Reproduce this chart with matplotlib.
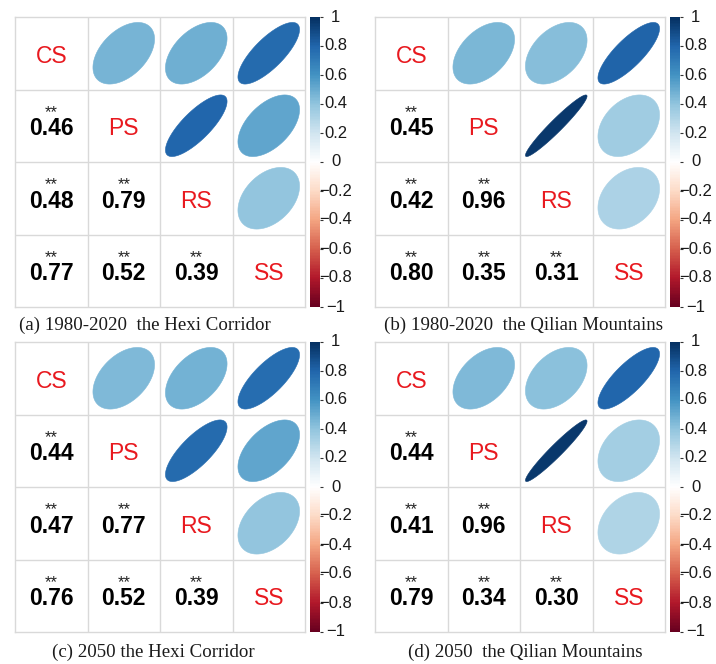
import numpy as np
import matplotlib
matplotlib.use("Agg")
import matplotlib.pyplot as plt
from matplotlib.colors import LinearSegmentedColormap, Normalize
from matplotlib.cm import ScalarMappable
from matplotlib.patches import Polygon
from matplotlib.transforms import blended_transform_factory

# ---------------------------------------------------------------- data
variables = ["CS", "PS", "RS", "SS"]

# lower-triangle correlations, pair order:
# (PS,CS), (RS,CS), (RS,PS), (SS,CS), (SS,PS), (SS,RS)
pairs = [(1, 0), (2, 0), (2, 1), (3, 0), (3, 1), (3, 2)]
hexi_1980_2020 = [0.46, 0.48, 0.79, 0.77, 0.52, 0.39]
qilian_1980_2020 = [0.45, 0.42, 0.96, 0.80, 0.35, 0.31]
hexi_2050 = [0.44, 0.47, 0.77, 0.76, 0.52, 0.39]
qilian_2050 = [0.44, 0.41, 0.96, 0.79, 0.34, 0.30]
significance = ["**", "**", "**", "**", "**", "**"]

captions = [
    "(a) 1980-2020  the Hexi Corridor",
    "(b) 1980-2020  the Qilian Mountains",
    "(c) 2050 the Hexi Corridor",
    "(d) 2050  the Qilian Mountains",
]
cbar_ticks = [1, 0.8, 0.6, 0.4, 0.2, 0, -0.2, -0.4, -0.6, -0.8, -1]

# ---------------------------------------------------------------- style
W, H = 716, 664
GRID = 290          # size of one correlation grid, px
label_red = "#e8191f"
grid_grey = "#d9d9d9"
sans = "Liberation Sans"
serif = "Liberation Serif"

rdbu = LinearSegmentedColormap.from_list(
    "corr_rdbu",
    ["#67001F", "#B2182B", "#D6604D", "#F4A582", "#FDDBC7", "#FFFFFF",
     "#D1E5F0", "#92C5DE", "#4393C3", "#2166AC", "#053061"], N=200)
norm = Normalize(-1, 1)

# (grid left, grid top, caption centre x, caption centre y) in px
layout = [
    (15, 17, 145, 325),
    (375, 17, 523, 325),
    (15, 342, 153, 652),
    (375, 342, 525, 652),
]
panels = [hexi_1980_2020, qilian_1980_2020, hexi_2050, qilian_2050]


def build_matrix(values):
    m = np.eye(len(variables))
    for (i, j), v in zip(pairs, values):
        m[i, j] = v
        m[j, i] = v
    return m


def ellipse_xy(r, cx, cy, scale=0.85, n=99):
    t = np.linspace(0, 2 * np.pi, n)
    a = np.arccos(np.clip(r, -1, 1)) / 2
    x = cx + scale / 2 * np.cos(t + a)
    y = cy - scale / 2 * np.cos(t - a)   # y axis points down
    return np.column_stack([x, y])


def fmt_tick(v):
    return ("%g" % v).replace("-", "\u2212")


fig = plt.figure(figsize=(W / 100, H / 100), dpi=100)
fig.patch.set_facecolor("white")

for values, (gx, gy, capx, capy), caption in zip(panels, layout, captions):
    mat = build_matrix(values)
    n = len(variables)
    ax = fig.add_axes([gx / W, 1 - (gy + GRID) / H, GRID / W, GRID / H])
    ax.set_xlim(0, n)
    ax.set_ylim(n, 0)
    ax.set_xticks([])
    ax.set_yticks([])
    for s in ax.spines.values():
        s.set_color(grid_grey)
        s.set_linewidth(1.0)
    for k in range(1, n):
        ax.axhline(k, color=grid_grey, lw=1.0, zorder=1)
        ax.axvline(k, color=grid_grey, lw=1.0, zorder=1)

    for i in range(n):
        for j in range(n):
            cx, cy = j + 0.5, i + 0.5
            if i == j:
                ax.text(cx, cy + 0.13, variables[i], ha="center", va="baseline",
                        color=label_red, fontsize=16.5, family=sans)
            elif j > i:
                r = mat[i, j]
                ax.add_patch(Polygon(ellipse_xy(r, cx, cy), closed=True,
                                     facecolor=rdbu(norm(r)),
                                     edgecolor=rdbu(norm(r)), lw=0.4,
                                     zorder=2))
            else:
                r = mat[i, j]
                sig = significance[pairs.index((i, j))]
                ax.text(cx, cy + 0.13, f"{r:.2f}", ha="center", va="baseline",
                        color="black", fontsize=16.5, fontweight="bold",
                        family=sans)
                ax.text(cx, cy - 0.125, sig, ha="center", va="baseline",
                        color="#222222", fontsize=12, family=sans)

    # colour legend
    cb_w = 10
    cax = fig.add_axes([(gx + 294.5) / W, 1 - (gy + GRID) / H, cb_w / W, GRID / H])
    cb = fig.colorbar(ScalarMappable(norm=norm, cmap=rdbu), cax=cax)
    cb.outline.set_visible(False)
    cb.set_ticks(cbar_ticks)
    cax.tick_params(axis="y", length=2.5, width=0.8, color="#333333",
                    labelright=False, labelleft=False)
    trans = blended_transform_factory(cax.transAxes, cax.transData)
    for v in cbar_ticks:
        cax.text(1 + 16 / cb_w, v, fmt_tick(v), transform=trans,
                 ha="center", va="center", fontsize=12, family=sans,
                 color="#1a1a1a")

    fig.text(capx / W, 1 - capy / H, caption, ha="center", va="center",
             fontsize=13.6, family=serif, color="#1a1a1a")

fig.savefig("out.png", dpi=100, facecolor="white")
